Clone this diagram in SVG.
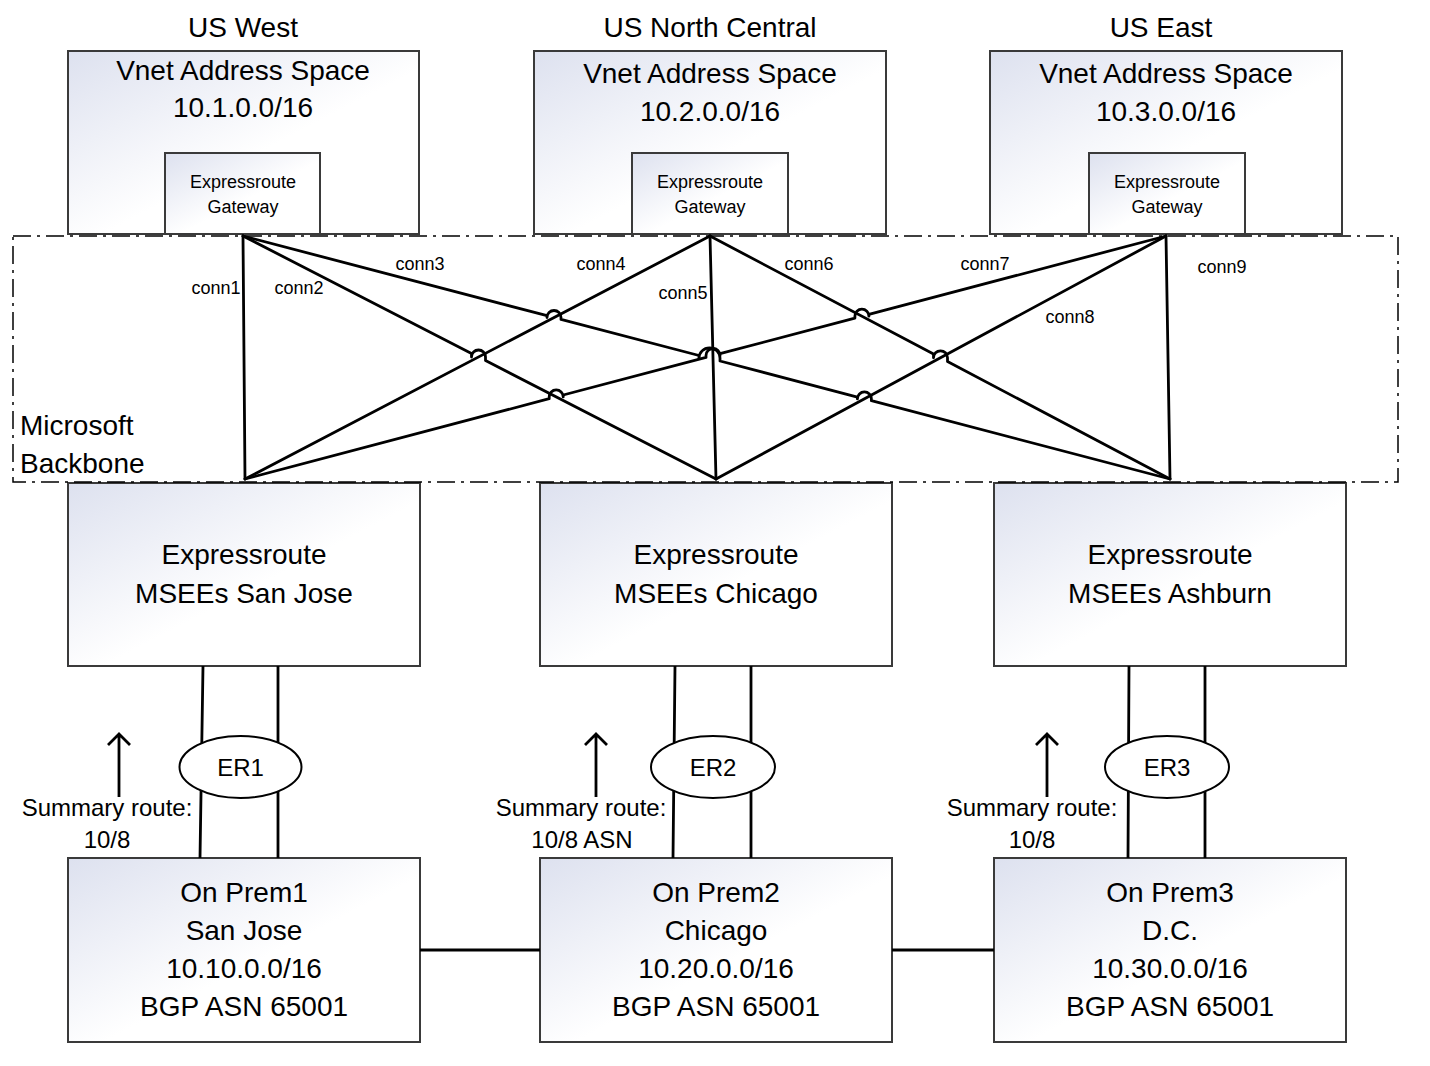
<svg xmlns="http://www.w3.org/2000/svg" width="1430" height="1066" viewBox="0 0 1430 1066">
<defs>
<linearGradient id="g" x1="0" y1="0" x2="1" y2="1">
<stop offset="0" stop-color="#dde1ef"/>
<stop offset="0.55" stop-color="#ffffff"/>
<stop offset="1" stop-color="#ffffff"/>
</linearGradient>
<style>
.box{fill:url(#g);stroke:#3a3a3a;stroke-width:2}
.t{font-family:"Liberation Sans",Arial,sans-serif;fill:#000;text-anchor:middle}
.big{font-size:28px}
.mid{font-size:24px}
.sm{font-size:18px}
.c{fill:none;stroke:#000;stroke-width:2.8;stroke-linejoin:round;stroke-linecap:round}
.l{fill:none;stroke:#000;stroke-width:2.8}
</style>
</defs>
<rect width="1430" height="1066" fill="#fff"/>

<text class="t big" x="243" y="37">US West</text>
<text class="t big" x="710" y="37">US North Central</text>
<text class="t big" x="1161" y="37">US East</text>

<g id="vnet-west">
<rect class="box" x="68" y="51" width="351" height="183"/>
<text class="t big" x="243" y="80">Vnet Address Space</text>
<text class="t big" x="243" y="117">10.1.0.0/16</text>
</g>
<g id="gw-west">
<rect class="box" x="165" y="153" width="155" height="81"/>
<text class="t sm" x="243" y="188">Expressroute</text>
<text class="t sm" x="243" y="213">Gateway</text>
</g>
<g id="vnet-nc">
<rect class="box" x="534" y="51" width="352" height="183"/>
<text class="t big" x="710" y="83">Vnet Address Space</text>
<text class="t big" x="710" y="121">10.2.0.0/16</text>
</g>
<g id="gw-nc">
<rect class="box" x="632" y="153" width="156" height="81"/>
<text class="t sm" x="710" y="188">Expressroute</text>
<text class="t sm" x="710" y="213">Gateway</text>
</g>
<g id="vnet-east">
<rect class="box" x="990" y="51" width="352" height="183"/>
<text class="t big" x="1166" y="83">Vnet Address Space</text>
<text class="t big" x="1166" y="121">10.3.0.0/16</text>
</g>
<g id="gw-east">
<rect class="box" x="1089" y="153" width="156" height="81"/>
<text class="t sm" x="1167" y="188">Expressroute</text>
<text class="t sm" x="1167" y="213">Gateway</text>
</g>

<g id="msee-sj">
<rect class="box" x="68" y="483" width="352" height="183"/>
<text class="t big" x="244" y="564">Expressroute</text>
<text class="t big" x="244" y="603">MSEEs San Jose</text>
</g>
<g id="msee-ch">
<rect class="box" x="540" y="483" width="352" height="183"/>
<text class="t big" x="716" y="564">Expressroute</text>
<text class="t big" x="716" y="603">MSEEs Chicago</text>
</g>
<g id="msee-as">
<rect class="box" x="994" y="483" width="352" height="183"/>
<text class="t big" x="1170" y="564">Expressroute</text>
<text class="t big" x="1170" y="603">MSEEs Ashburn</text>
</g>

<g id="onprem1">
<rect class="box" x="68" y="858" width="352" height="184"/>
<text class="t big" x="244" y="902">On Prem1</text>
<text class="t big" x="244" y="940">San Jose</text>
<text class="t big" x="244" y="978">10.10.0.0/16</text>
<text class="t big" x="244" y="1016">BGP ASN 65001</text>
</g>
<g id="onprem2">
<rect class="box" x="540" y="858" width="352" height="184"/>
<text class="t big" x="716" y="902">On Prem2</text>
<text class="t big" x="716" y="940">Chicago</text>
<text class="t big" x="716" y="978">10.20.0.0/16</text>
<text class="t big" x="716" y="1016">BGP ASN 65001</text>
</g>
<g id="onprem3">
<rect class="box" x="994" y="858" width="352" height="184"/>
<text class="t big" x="1170" y="902">On Prem3</text>
<text class="t big" x="1170" y="940">D.C.</text>
<text class="t big" x="1170" y="978">10.30.0.0/16</text>
<text class="t big" x="1170" y="1016">BGP ASN 65001</text>
</g>

<g id="backbone">
<rect x="13" y="236" width="1385" height="246" fill="none" stroke="#000" stroke-width="1.5" stroke-dasharray="18 6 3 6"/>
<text class="t big" x="20" y="435" style="text-anchor:start">Microsoft</text>
<text class="t big" x="20" y="473" style="text-anchor:start">Backbone</text>
</g>

<g id="connectors">
<path class="c" d="M243 236 L245 479"/>
<path class="c" d="M243 236 L471.5 353.4 L471.5 357 A7 7 0 0 1 485.5 357 L485.5 360.6 L716 479"/>
<path class="c" d="M243 236 L547 315.7 L547 317.5 A7 7 0 0 1 561 317.5 L561 319.4 L699 355.5 L699 358.3 A10.5 10.5 0 0 1 720 358.3 L720 361 L857.4 397.1 L857.4 398.9 A7 7 0 0 1 871.4 398.9 L871.4 400.7 L1170 479"/>
<path class="c" d="M710 236 L245 479"/>
<path class="c" d="M710 236 L716 479"/>
<path class="c" d="M710 236 L933.5 354.1 L933.5 357.8 A7 7 0 0 1 947.5 357.8 L947.5 361.5 L1170 479"/>
<path class="c" d="M245 479 L549.2 398.7 L549.2 396.9 A7 7 0 0 1 563.2 396.9 L563.2 395 L706 357.4 L706 355.5 A7 7 0 0 1 720 355.5 L720 353.7 L854.9 318.1 L854.9 316.2 A7 7 0 0 1 868.9 316.2 L868.9 314.4 L1166 236"/>
<path class="c" d="M1166 236 L716 479"/>
<path class="c" d="M1166 236 L1170 479"/>

<text class="t sm" x="216" y="294">conn1</text>
<text class="t sm" x="299" y="294">conn2</text>
<text class="t sm" x="420" y="270">conn3</text>
<text class="t sm" x="601" y="270">conn4</text>
<text class="t sm" x="683" y="299">conn5</text>
<text class="t sm" x="809" y="270">conn6</text>
<text class="t sm" x="985" y="270">conn7</text>
<text class="t sm" x="1070" y="323">conn8</text>
<text class="t sm" x="1222" y="273">conn9</text>

<path class="l" d="M203 666 L200 858 M278 666 L278 858"/>
<path class="l" d="M675 666 L673 858 M751 666 L751 858"/>
<path class="l" d="M1129 666 L1128 858 M1205 666 L1205 858"/>
<path class="l" d="M420 950 L540 950 M892 950 L994 950"/>

<path class="l" d="M119 797 L119 734 M108 745 L119 734 L130 745"/>
<path class="l" d="M596 797 L596 734 M585 745 L596 734 L607 745"/>
<path class="l" d="M1047 797 L1047 734 M1036 745 L1047 734 L1058 745"/>
</g>

<g id="er1">
<ellipse cx="240.5" cy="767" rx="61" ry="31" fill="#fff" stroke="#000" stroke-width="2"/>
<text class="t mid" x="240.5" y="776">ER1</text>
</g>
<g id="er2">
<ellipse cx="713" cy="767" rx="62" ry="31" fill="#fff" stroke="#000" stroke-width="2"/>
<text class="t mid" x="713" y="776">ER2</text>
</g>
<g id="er3">
<ellipse cx="1167" cy="767" rx="62" ry="31" fill="#fff" stroke="#000" stroke-width="2"/>
<text class="t mid" x="1167" y="776">ER3</text>
</g>

<text class="t mid" x="107" y="816">Summary route:</text>
<text class="t mid" x="107" y="848">10/8</text>
<text class="t mid" x="581" y="816">Summary route:</text>
<text class="t mid" x="582" y="848">10/8 ASN</text>
<text class="t mid" x="1032" y="816">Summary route:</text>
<text class="t mid" x="1032" y="848">10/8</text>
</svg>
